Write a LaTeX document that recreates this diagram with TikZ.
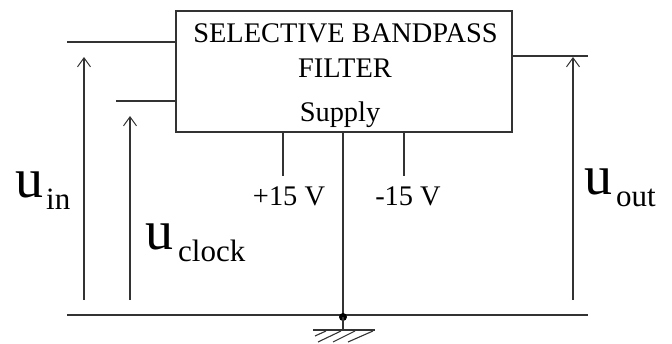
\documentclass[tikz,border=0pt]{standalone}
\usepackage{fontspec}
\setmainfont{Liberation Serif}
\usetikzlibrary{arrows.meta}
\tikzset{
  wire/.style={line width=1.1pt,draw=black!80},
  volt/.style={wire,-{Straight Barb[length=9pt,width=13pt,line width=1pt]}},
  lbl/.style={inner sep=0pt,anchor=base,text=black},
  plain/.style={lbl,font=\fontsize{28.4}{30}\selectfont},
  big/.style={lbl,anchor=base west,font=\fontsize{56}{56}\selectfont},
  sub/.style={lbl,anchor=base west,font=\fontsize{31}{32}\selectfont}
}
\begin{document}
\begin{tikzpicture}[x=1pt,y=-1pt]
\useasboundingbox (0,0) rectangle (672,343);
\node[wire,draw,minimum width=336pt,minimum height=121pt,inner sep=0pt] (box) at (344,71.5) {};
\coordinate (i1) at (176,42); \coordinate (i1e) at (67,42);
\coordinate (i2) at (176,101); \coordinate (i2e) at (116,101);
\coordinate (o) at (512,56); \coordinate (oe) at (588,56);
\draw[wire] (i1) -- (i1e);
\draw[wire] (i2) -- (i2e);
\draw[wire] (o) -- (oe);
\coordinate (g1) at (67,315); \coordinate (g2) at (588,315);
\draw[wire] (g1) -- (g2);
\coordinate (a1b) at (84,300); \coordinate (a1t) at (84,57);
\coordinate (a2b) at (130,300); \coordinate (a2t) at (130,116);
\coordinate (a3b) at (573,300); \coordinate (a3t) at (573,57);
\draw[volt] (a1b) -- (a1t);
\draw[volt] (a2b) -- (a2t);
\draw[volt] (a3b) -- (a3t);
\coordinate (p15t) at (283,132); \coordinate (p15b) at (283,176);
\coordinate (m15t) at (404,132); \coordinate (m15b) at (404,176);
\coordinate (st) at (343,132); \coordinate (gnd) at (343,317);
\draw[wire] (p15t) -- (p15b);
\draw[wire] (m15t) -- (m15b);
\draw[wire] (st) -- (gnd);
\fill[black] (gnd) circle (4pt);
\coordinate (h1) at (313,330); \coordinate (h2) at (375,330);
\draw[wire] (gnd) -- (343,330);
\draw[wire] (h1) -- (h2);
\draw[wire] (326,331) -- (315,336);
\draw[wire] (341,331) -- (318,342);
\draw[wire] (355,331) -- (333,342);
\draw[wire] (373,331) -- (348,342);
\node[plain] (t1) at (345.5,42) {SELECTIVE BANDPASS};
\node[plain] (t2) at (345,77) {FILTER};
\node[plain] (t3) at (340,121) {Supply};
\node[plain] (t4) at (289,205) {+15 V};
\node[plain] (t5) at (408,205) {-15 V};
\node[big] (u1) at (15,197) {u};
\node[sub] (u1s) at (46,209) {in};
\node[big] (u2) at (145,249) {u};
\node[sub] (u2s) at (178,261) {clock};
\node[big] (u3) at (584,194) {u};
\node[sub] (u3s) at (616,206) {out};
\end{tikzpicture}
\end{document}
